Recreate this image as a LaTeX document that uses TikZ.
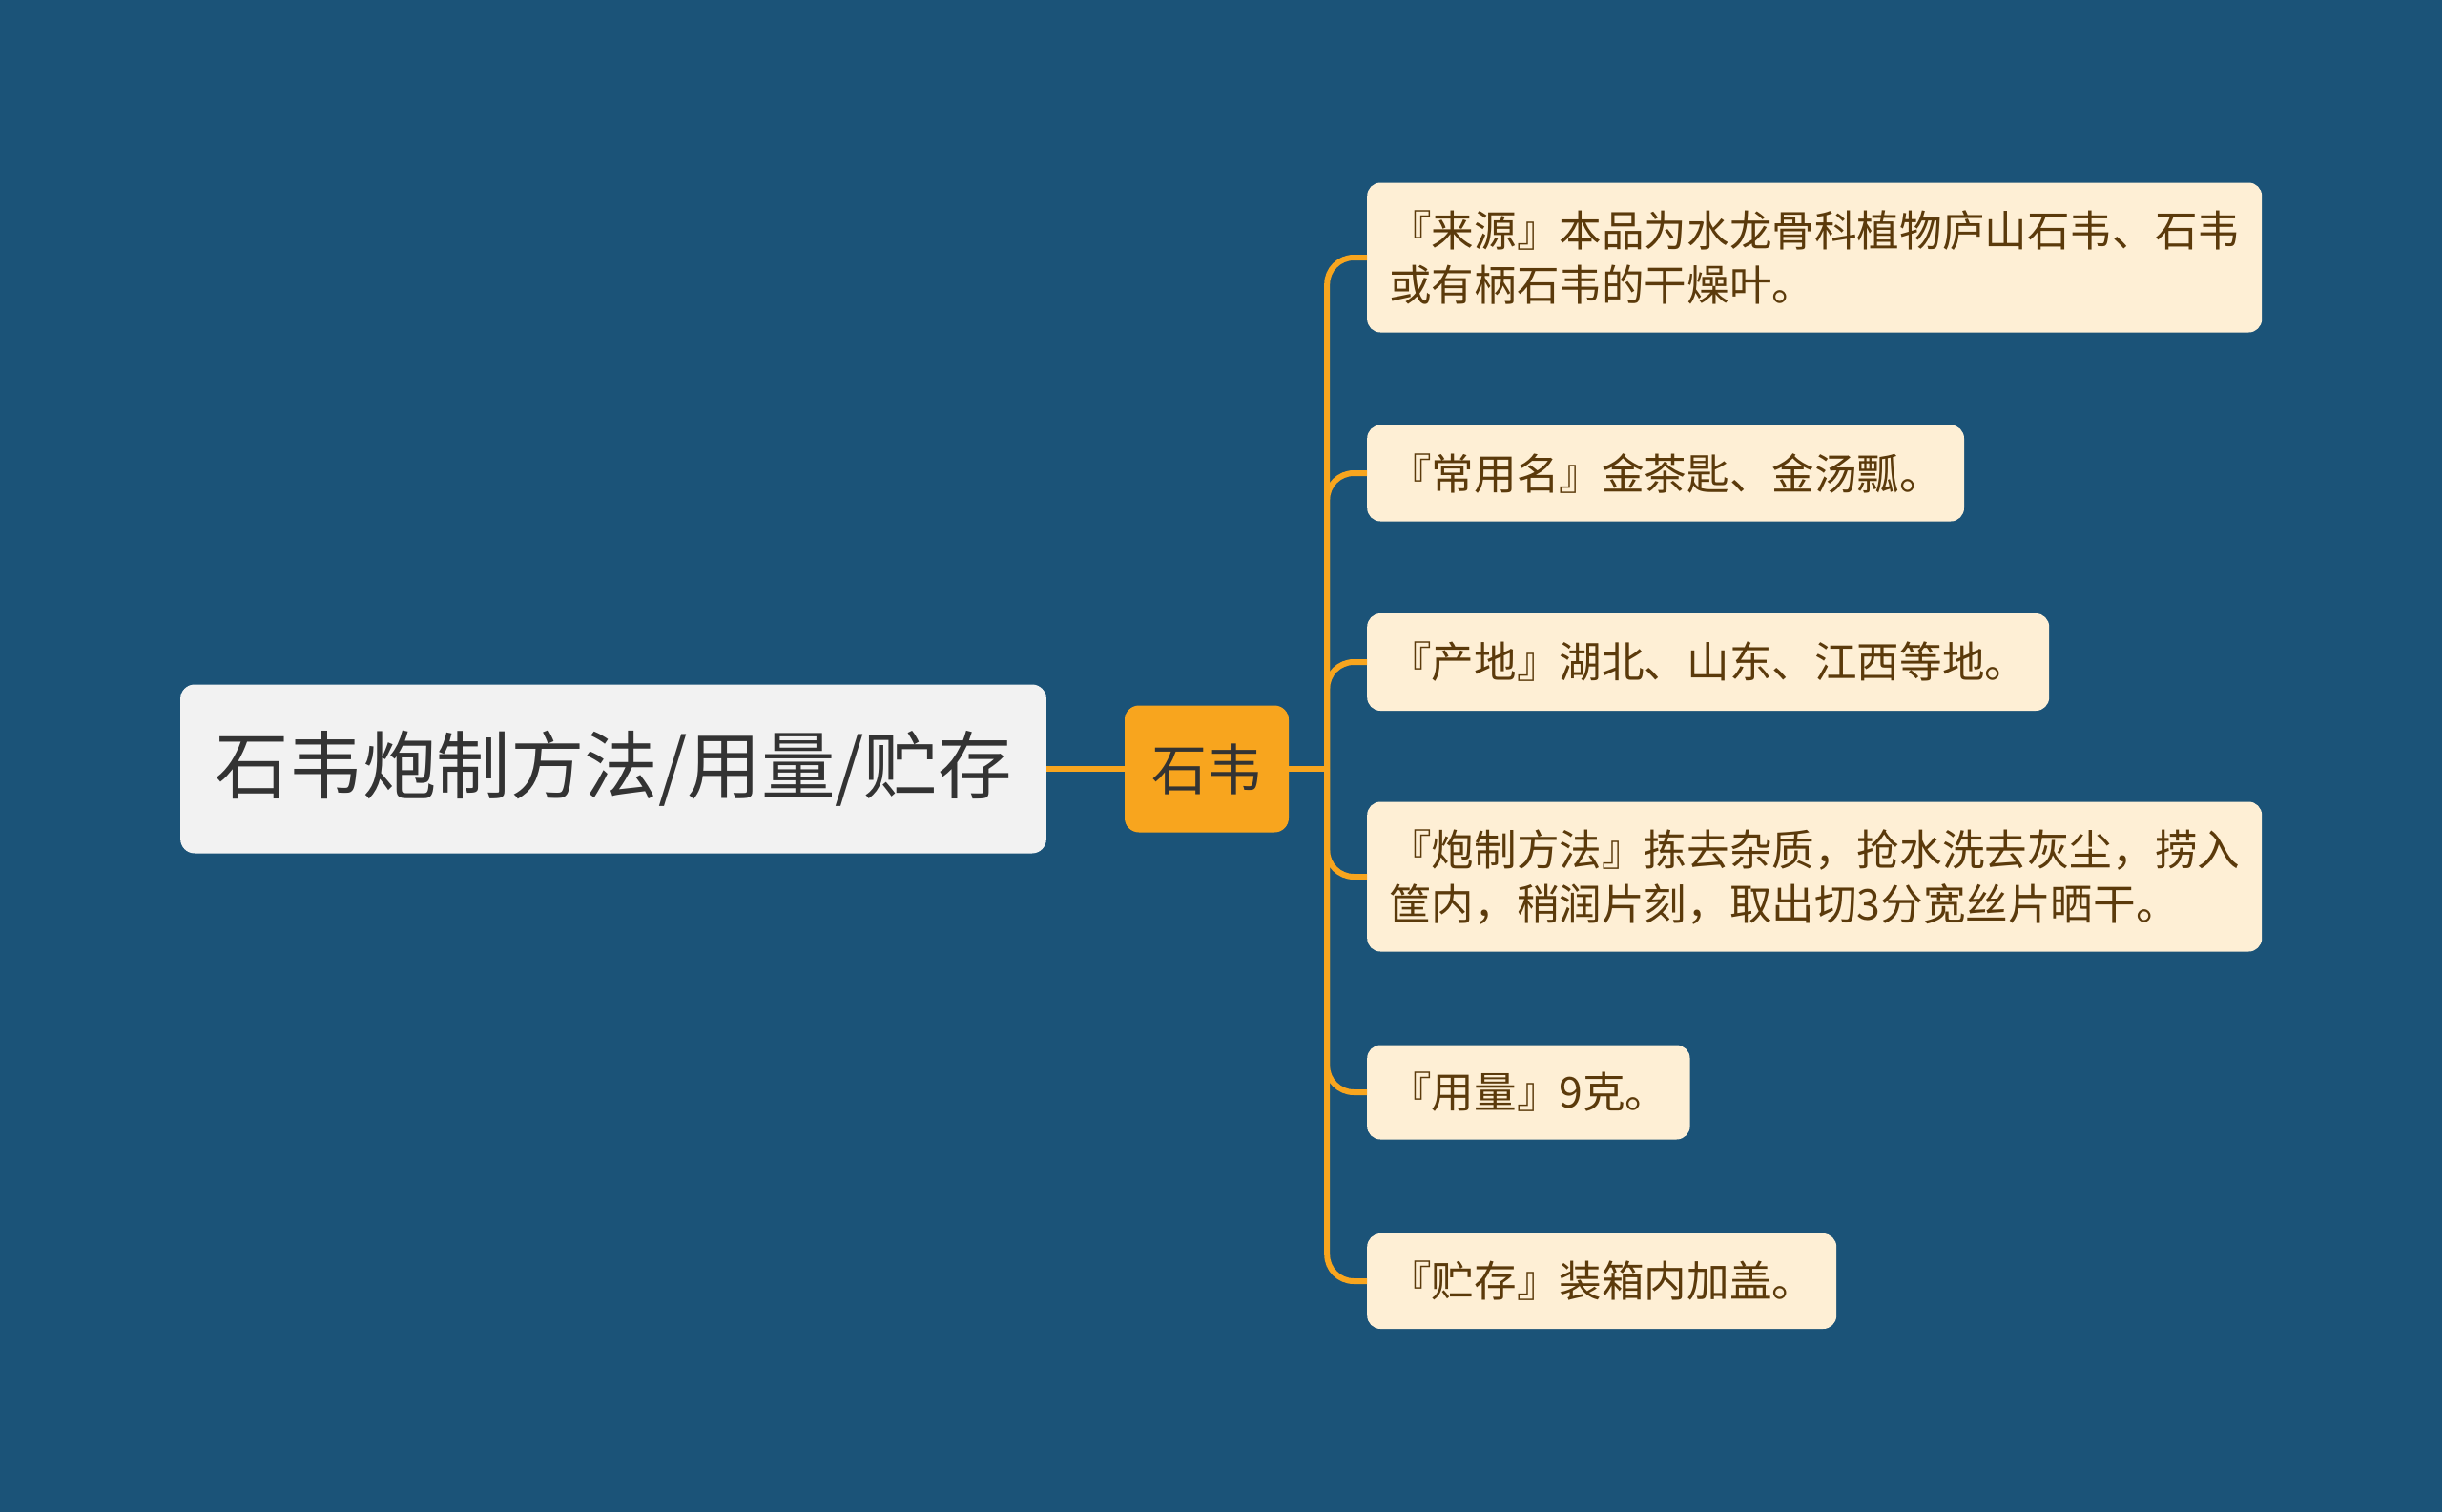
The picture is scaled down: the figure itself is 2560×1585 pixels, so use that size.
\documentclass[tikz,border=0pt]{standalone}
\usepackage{fontspec}
\setmainfont{Noto Sans CJK SC}
\definecolor{bg}{HTML}{1B5378}
\definecolor{orangec}{HTML}{F8A51E}
\definecolor{leaffill}{HTML}{FEEFD5}
\definecolor{leaftext}{HTML}{5B3A0B}
\definecolor{rootfill}{HTML}{F2F2F2}
\definecolor{roottext}{HTML}{333333}
\begin{document}
\begin{tikzpicture}[x=1pt,y=-1pt,
  leafbox/.style={fill=leaffill, text=leaftext, rounded corners=14pt, anchor=west, align=left,
    inner xsep=23pt, inner ysep=0pt, font=\fontsize{44.6}{57}\selectfont},
  rootbox/.style={fill=rootfill, text=roottext, rounded corners=15pt, inner xsep=36pt, inner ysep=0pt,
    minimum height=177pt, font=\fontsize{77.5}{90}\selectfont},
  midbox/.style={fill=orangec, text=roottext, rounded corners=15pt, inner sep=0pt,
    minimum width=172pt, minimum height=133pt, font=\fontsize{58}{70}\selectfont},
  conn/.style={draw=orangec, line width=6pt, rounded corners=28pt}]
\fill[bg] (0,0) rectangle (2560,1585);
\useasboundingbox (0,0) rectangle (2560,1585);

\node[rootbox] (root) at (643,806) {石韦炮制方法/用量/贮存};
\node[midbox] (mid) at (1265,806) {石韦};

\node[leafbox, minimum height=157pt] (l1) at (1433,270) {『来源』本品为水龙骨科植物庐山石韦、石韦\\或有柄石韦的干燥叶。};
\node[leafbox, minimum height=101pt] (l2) at (1433,496) {『常用名』金茶匙、金汤瓢。};
\node[leafbox, minimum height=102pt] (l3) at (1433,694) {『产地』湖北、山东、江西等地。};
\node[leafbox, minimum height=157pt] (l4) at (1433,919) {『炮制方法』拣去杂质，抢水洗去灰尘，捞入\\筐内，稍润片刻，取出切3分宽丝片晒干。};
\node[leafbox, minimum height=99pt] (l5) at (1433,1145) {『用量』9克。};
\node[leafbox, minimum height=100pt] (l6) at (1433,1343) {『贮存』装箱内加盖。};

\coordinate (tr) at ([xshift=40pt]mid.east);
\draw[conn] (root.east) -- (mid.west);
\draw[conn] (mid.east) -- (tr);
\foreach \n in {l1,l2,l3,l4,l5,l6}{
  \draw[conn] (tr) |- (\n.west);
}
\end{tikzpicture}
\end{document}
